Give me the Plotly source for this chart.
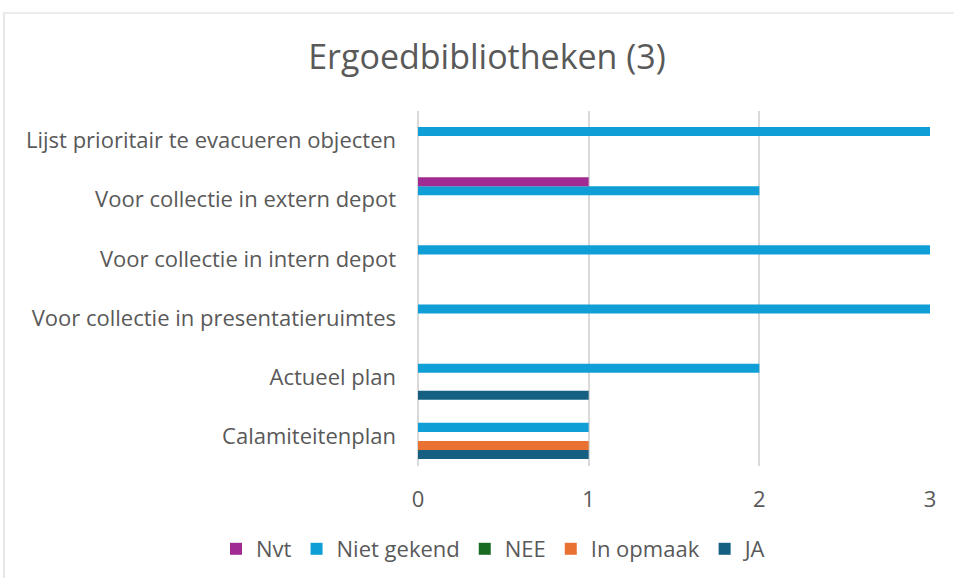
import plotly.graph_objects as go

categories = [
    "Calamiteitenplan",
    "Actueel plan",
    "Voor collectie in presentatieruimtes",
    "Voor collectie in intern depot",
    "Voor collectie in extern depot",
    "Lijst prioritair te evacueren objecten",
]
ja = [1, 1, 0, 0, 0, 0]
in_opmaak = [1, 0, 0, 0, 0, 0]
nee = [0, 0, 0, 0, 0, 0]
niet_gekend = [1, 2, 3, 3, 2, 3]
nvt = [0, 0, 0, 0, 1, 0]

series = [
    ("JA", ja, "#156082"),
    ("In opmaak", in_opmaak, "#e97132"),
    ("NEE", nee, "#196b24"),
    ("Niet gekend", niet_gekend, "#0f9ed5"),
    ("Nvt", nvt, "#a02b93"),
]

FONT = "Open Sans"
TXT = "#595959"

fig = go.Figure()
for name, vals, col in series:
    fig.add_trace(go.Bar(
        y=categories, x=vals, name=name, orientation="h",
        marker=dict(color=col, line=dict(width=0)),
    ))

W, H = 954, 578
L, R, T, B = 418, 24, 111, 112
pw, ph = W - L - R, H - T - B

def px2paper_x(px):
    return (px - L) / pw

def px2paper_y(py):
    return (H - B - py) / ph

fig.update_layout(
    width=W, height=H,
    margin=dict(l=L, r=R, t=T, b=B, autoexpand=False),
    paper_bgcolor="white", plot_bgcolor="white",
    barmode="group", bargap=0.237, bargroupgap=0,
    font=dict(family=FONT, color=TXT, size=22),
    title=dict(
        text="Ergoedbibliotheken (3)",
        font=dict(family=FONT, size=34, color=TXT),
        x=487 / W, xref="container", xanchor="center",
        y=1 - 57 / H, yref="container", yanchor="middle",
    ),
    xaxis=dict(
        range=[0, 3], dtick=1, showgrid=True, gridcolor="#d9d9d9", gridwidth=1.5,
        zeroline=True, zerolinecolor="#d9d9d9", zerolinewidth=1.5,
        showline=False, ticks="", ticklabelstandoff=18,
        tickfont=dict(family=FONT, size=22, color=TXT), fixedrange=True,
        automargin=False,
    ),
    yaxis=dict(
        categoryorder="array", categoryarray=categories,
        showgrid=False, zeroline=False, showline=False, ticks="",
        ticklabelstandoff=21,
        tickfont=dict(family=FONT, size=22, color=TXT), fixedrange=True,
        automargin=False,
    ),
    legend=dict(
        orientation="h", traceorder="reversed",
        x=px2paper_x(216), xref="paper", xanchor="left",
        y=px2paper_y(549), yref="paper", yanchor="middle",
        font=dict(family=FONT, size=22, color=TXT),
        itemwidth=30,
    ),
    showlegend=True,
)

fig.add_shape(
    type="rect", xref="paper", yref="paper",
    x0=px2paper_x(4), x1=px2paper_x(970),
    y0=px2paper_y(595), y1=px2paper_y(13),
    line=dict(color="#d9d9d9", width=1.2), fillcolor="rgba(0,0,0,0)",
    layer="below",
)

fig.write_html(
    "out.html",
    config={"displayModeBar": False},
    post_script="document.body.style.margin='0';document.body.style.overflow='hidden';",
)
